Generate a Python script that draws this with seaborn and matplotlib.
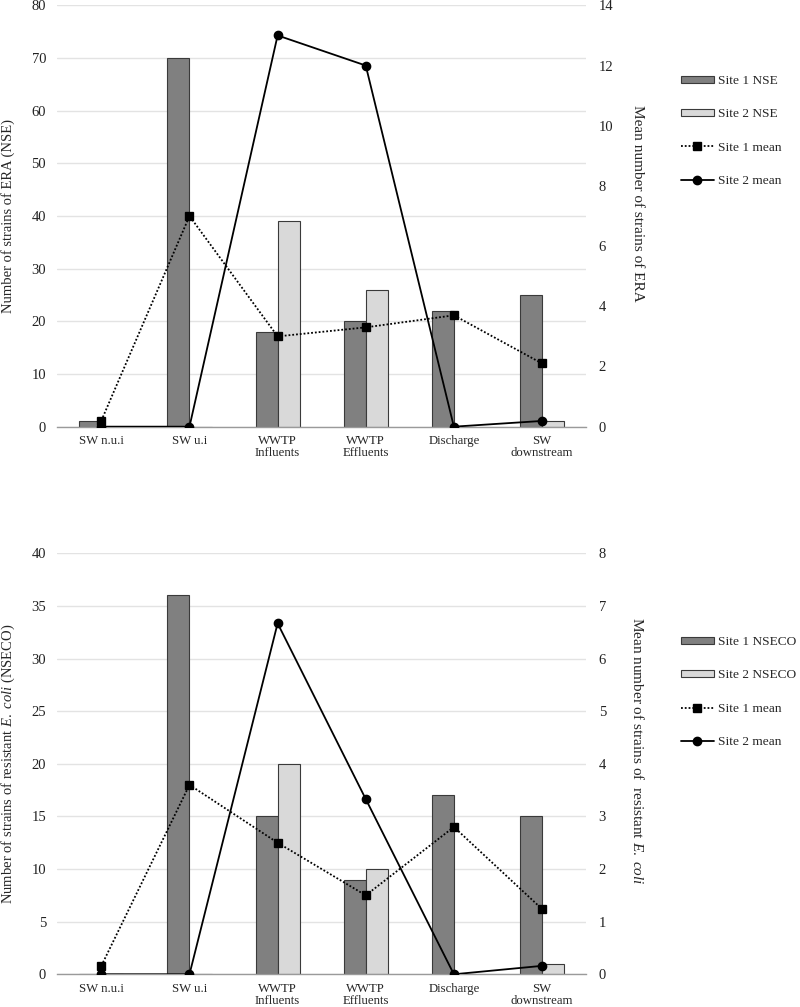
import numpy as np
import pandas as pd
import matplotlib
matplotlib.use("Agg")
import matplotlib.pyplot as plt
import seaborn as sns
from matplotlib.lines import Line2D
from matplotlib.patches import Patch

# ---------------- data ----------------
categories = ["SW n.u.i", "SW u.i", "WWTP\nInfluents", "WWTP\nEffluents", "Discharge", "SW\ndownstream"]

era_site1_nse = [1, 70, 18, 20, 22, 25]
era_site2_nse = [0, 0, 39, 26, 0, 1]
era_site1_mean = [0.2, 7.0, 3.0, 3.3, 3.7, 2.1]
era_site2_mean = [0.0, 0.0, 13.0, 12.0, 0.0, 0.19]

eco_site1_nseco = [0, 36, 15, 9, 17, 15]
eco_site2_nseco = [0, 0, 20, 10, 0, 1]
eco_site1_mean = [0.16, 3.6, 2.5, 1.5, 2.8, 1.24]
eco_site2_mean = [0.0, 0.0, 6.67, 3.33, 0.0, 0.16]

era_left_ticks = [0, 10, 20, 30, 40, 50, 60, 70, 80]
era_right_ticks = [0, 2, 4, 6, 8, 10, 12, 14]
eco_left_ticks = [0, 5, 10, 15, 20, 25, 30, 35, 40]
eco_right_ticks = [0, 1, 2, 3, 4, 5, 6, 7, 8]

# ---------------- style ----------------
sns.set_style("white")
plt.rcParams["font.family"] = ["Liberation Serif", "DejaVu Serif"]
plt.rcParams["mathtext.fontset"] = "custom"
plt.rcParams["mathtext.rm"] = "Liberation Serif"
plt.rcParams["mathtext.it"] = "Liberation Serif:italic"

DARK = "#808080"
LIGHT = "#d9d9d9"
EDGE = "#3a3a3a"
GRID = "#e3e3e3"
AXIS = "#9a9a9a"

fig = plt.figure(figsize=(8.0, 10.07), dpi=100)


def panel(rect, b1, b2, m1, m2, names, left_label, right_label,
          lticks, rticks, legend_y):
    ax = fig.add_axes(rect)
    bdf = pd.DataFrame({
        "cat": categories * 2,
        "series": [names[0]] * len(categories) + [names[1]] * len(categories),
        "val": b1 + b2,
    })
    sns.barplot(data=bdf, x="cat", y="val", hue="series", order=categories,
                hue_order=names[:2], palette=[DARK, LIGHT], width=0.5,
                edgecolor=EDGE, linewidth=0.8, ax=ax, legend=False, errorbar=None)
    ax.set_ylim(lticks[0], lticks[-1])
    ax.set_yticks(lticks)
    ax.yaxis.grid(True, color=GRID, linewidth=1.0)
    ax.set_axisbelow(True)
    for s in ["left", "right", "top"]:
        ax.spines[s].set_visible(False)
    ax.spines["bottom"].set_color(AXIS)
    ax.spines["bottom"].set_linewidth(1.0)

    ax2 = ax.twinx()
    mdf = pd.DataFrame({
        "cat": categories * 2,
        "series": [names[2]] * len(categories) + [names[3]] * len(categories),
        "val": m1 + m2,
    })
    sns.pointplot(data=mdf, x="cat", y="val", hue="series", order=categories,
                  hue_order=names[2:], palette=["black", "black"],
                  markers=["s", "o"], linestyles=[(0, (1, 1.1)), "-"],
                  errorbar=None, ax=ax2, legend=False, markersize=6,
                  linewidth=1.3)
    ax2.set_ylim(rticks[0], rticks[-1])
    ax2.set_yticks(rticks)
    for s in ["left", "right", "top", "bottom"]:
        ax2.spines[s].set_visible(False)

    ax.set_xlim(-0.5, len(categories) - 0.5)
    ax.set_xticks(range(len(categories)))
    ax.set_xticklabels(categories, fontsize=9.2, linespacing=1.05)
    ax.set_xticks(np.arange(-0.5, len(categories)), minor=True)
    ax.tick_params(axis="x", which="major", length=0, pad=6)
    ax.tick_params(axis="x", which="minor", length=5, color=AXIS, width=1.0, direction="out")
    ax.tick_params(axis="y", length=0, pad=8, labelsize=10.5, labelcolor="#222222")
    ax2.tick_params(axis="y", length=0, pad=9, labelsize=10.5, labelcolor="#222222")
    ax.set_xlabel("")
    ax.set_ylabel(left_label, fontsize=10.5, va="center")
    ax.yaxis.set_label_coords(-0.093, 0.5)
    ax2.set_ylabel(right_label, fontsize=11, rotation=270, va="center")
    ax2.yaxis.set_label_coords(1.097, 0.53)

    handles = [
        Patch(facecolor=DARK, edgecolor=EDGE, linewidth=0.8),
        Patch(facecolor=LIGHT, edgecolor=EDGE, linewidth=0.8),
        Line2D([], [], color="black", linestyle=(0, (1, 1.1)), linewidth=1.3,
               marker="s", markersize=6),
        Line2D([], [], color="black", linestyle="-", linewidth=1.3,
               marker="o", markersize=6),
    ]
    ax.legend(handles, names, loc="center left",
              bbox_to_anchor=(0.851, legend_y), bbox_transform=fig.transFigure,
              frameon=False, fontsize=9.6, handlelength=2.5, handleheight=0.45,
              handletextpad=0.3, labelspacing=1.6, borderaxespad=0,
              borderpad=0)
    return ax, ax2


panel([0.0716, 0.5763, 0.661, 0.4184], era_site1_nse, era_site2_nse,
      era_site1_mean, era_site2_mean,
      ["Site 1 NSE", "Site 2 NSE", "Site 1 mean", "Site 2 mean"],
      "Number of strains of ERA (NSE)", "Mean number of strains of ERA",
      era_left_ticks, era_right_ticks, 0.870)

panel([0.0716, 0.0325, 0.661, 0.418], eco_site1_nseco, eco_site2_nseco,
      eco_site1_mean, eco_site2_mean,
      ["Site 1 NSECO", "Site 2 NSECO", "Site 1 mean", "Site 2 mean"],
      r"Number of strains of resistant $\mathit{E.\ coli}$ (NSECO)",
      r"Mean number of strains of  resistant $\mathit{E.\ coli}$",
      eco_left_ticks, eco_right_ticks, 0.3128)

fig.savefig("out.png", dpi=100)
